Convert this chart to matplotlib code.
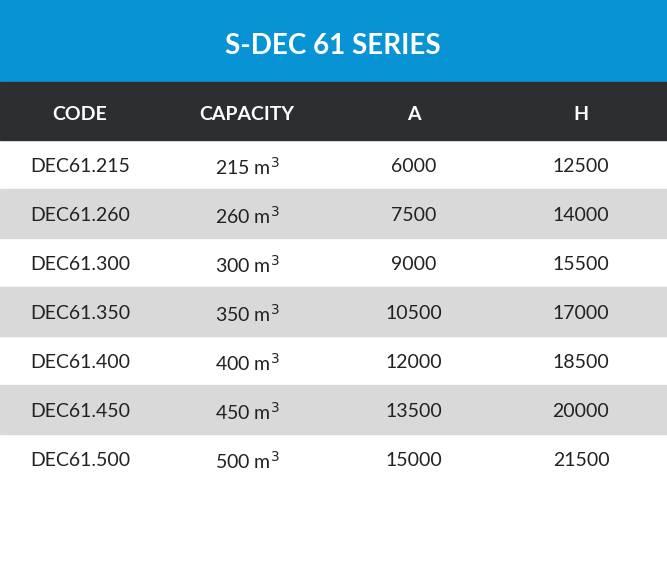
import matplotlib.pyplot as plt
from matplotlib.patches import Rectangle

title = "S-DEC 61 SERIES"
headers = ["CODE", "CAPACITY", "A", "H"]
codes = ["DEC61.215", "DEC61.260", "DEC61.300", "DEC61.350", "DEC61.400", "DEC61.450", "DEC61.500"]
capacity = [215, 260, 300, 350, 400, 450, 500]
a_vals = [6000, 7500, 9000, 10500, 12000, 13500, 15000]
h_vals = [12500, 14000, 15500, 17000, 18500, 20000, 21500]

plt.rcParams['font.family'] = ['Lato', 'DejaVu Sans']

fig = plt.figure(figsize=(6.67, 5.86), dpi=100)
ax = fig.add_axes([0, 0, 1, 1])
ax.set_xlim(0, 667)
ax.set_ylim(586, 0)
ax.axis('off')

col_x = [80, 247, 414, 581]
ax.add_patch(Rectangle((0, 0), 667, 82, color='#0893d5'))
ax.text(333, 46, title, ha='center', va='center', color='white', fontsize=20, fontweight='bold')
ax.add_patch(Rectangle((0, 82), 667, 58, color='#2c2e30'))
for x, h in zip(col_x, headers):
    ax.text(x, 114, h, ha='center', va='center', color='white', fontsize=14, fontweight='bold')

row_h = 49
for i in range(len(codes)):
    y0 = 140 + i * row_h
    if i % 2 == 1:
        ax.add_patch(Rectangle((0, y0), 667, row_h, color='#d9d9d9'))
    yc = y0 + row_h / 2 + 2
    vals = [codes[i], f"{capacity[i]} m$^3$", str(a_vals[i]), str(h_vals[i])]
    for x, v in zip(col_x, vals):
        ax.text(x, yc, v, ha='center', va='center', color='#222222', fontsize=14)

fig.savefig('out.png', dpi=100)
